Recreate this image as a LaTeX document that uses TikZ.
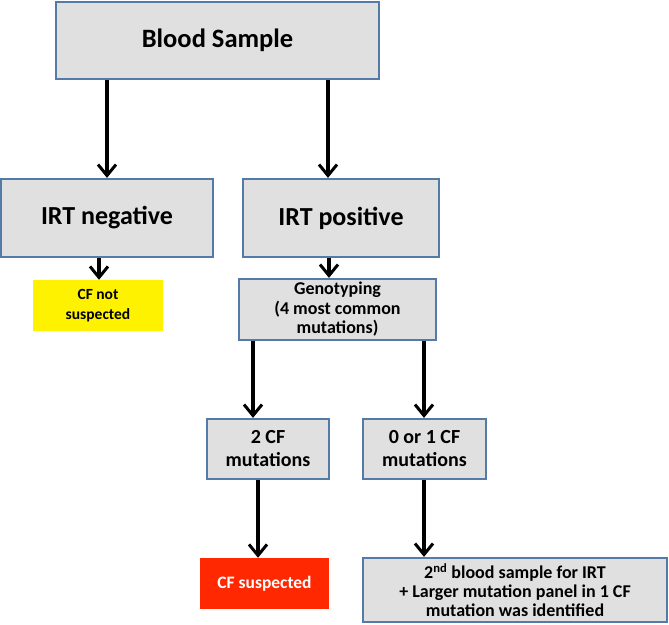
\documentclass[tikz,border=0pt]{standalone}
\usepackage{fontspec}
\setmainfont{Carlito}
\usetikzlibrary{arrows.meta}
\definecolor{boxfill}{RGB}{224,224,224}
\definecolor{boxline}{RGB}{84,122,168}
\definecolor{cfred}{RGB}{255,40,0}
\tikzset{
  gbox/.style={draw=boxline, line width=2.2pt, fill=boxfill, align=center, inner sep=0pt, font=\bfseries},
  flat/.style={draw=none, align=center, inner sep=0pt, font=\bfseries},
  arr/.style={line width=3.5pt, -{Straight Barb[length=11pt,width=18pt,line width=3pt]}},
}
\begin{document}
\begin{tikzpicture}[x=1pt,y=-1pt]
\useasboundingbox (0,0) rectangle (669,624);
\node[gbox, minimum width=323pt, minimum height=77pt, font=\bfseries\fontsize{26.5}{30}\selectfont] (bs) at (217.5,40.5) {Blood Sample};
\node[gbox, minimum width=212pt, minimum height=78pt, font=\bfseries\fontsize{26}{30}\selectfont] (neg) at (107,218) {IRT negative};
\node[gbox, minimum width=196pt, minimum height=78pt, font=\bfseries\fontsize{26}{30}\selectfont] (pos) at (341,218) {IRT positive};
\node[flat, fill=yellow, minimum width=130pt, minimum height=51pt, font=\bfseries\fontsize{15.5}{20}\selectfont] (nots) at (98,305.5) {CF not\\suspected};
\node[gbox, minimum width=197pt, minimum height=61pt, font=\bfseries\fontsize{18}{19.5}\selectfont] (geno) at (337.5,309.5) {Genotyping\\(4 most common\\mutations)};
\node[gbox, minimum width=122pt, minimum height=60pt, font=\bfseries\fontsize{20}{23}\selectfont] (two) at (268,449) {2 CF\\mutations};
\node[gbox, minimum width=123pt, minimum height=60pt, font=\bfseries\fontsize{20}{23}\selectfont] (zero) at (424.5,449) {0 or 1 CF\\mutations};
\node[flat, fill=cfred, text=white, minimum width=129pt, minimum height=51pt, font=\bfseries\fontsize{17.5}{20}\selectfont] (sus) at (264.5,583.5) {CF suspected};
\node[gbox, minimum width=304pt, minimum height=64pt, font=\bfseries\fontsize{18}{18.7}\selectfont] (second) at (515,590) {2\textsuperscript{nd} blood sample for IRT\\+ Larger mutation panel in 1 CF\\mutation was identified};
\draw[arr] (bs.south -| 107,0) -- (neg.north -| 107,0);
\draw[arr] (bs.south -| 328,0) -- (pos.north -| 328,0);
\draw[arr] (neg.south -| 99,0) -- (nots.north -| 99,0);
\draw[arr] (pos.south -| 329,0) -- (geno.north -| 329,0);
\draw[arr] (geno.south -| 253,0) -- (two.north -| 253,0);
\draw[arr] (geno.south -| 424,0) -- (zero.north -| 424,0);
\draw[arr] (two.south -| 258,0) -- (sus.north -| 258,0);
\draw[arr] (zero.south -| 424,0) -- (second.north -| 424,0);
\end{tikzpicture}
\end{document}
